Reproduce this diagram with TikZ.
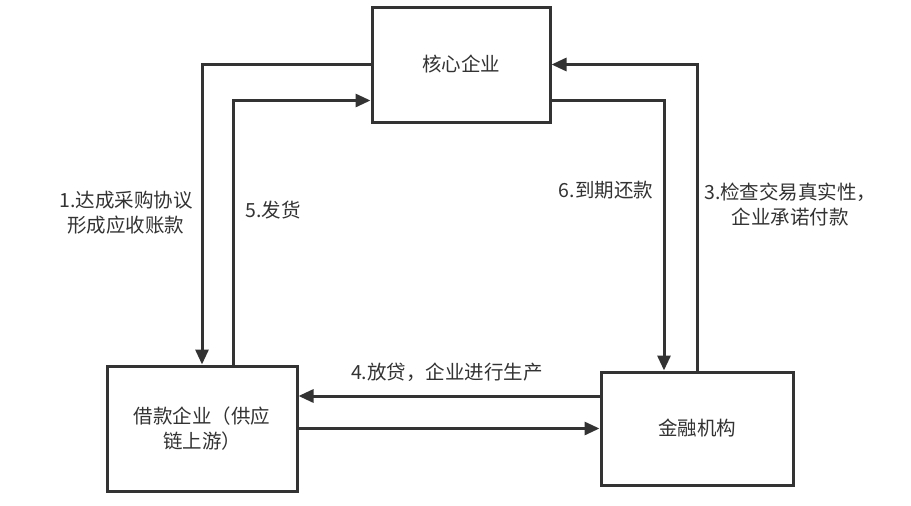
\documentclass[tikz,border=0pt]{standalone}
\usepackage{fontspec}
\setmainfont{Noto Sans CJK SC}
\usetikzlibrary{arrows.meta}
\definecolor{ink}{HTML}{333333}
\begin{document}
\begin{tikzpicture}[x=1pt,y=-1pt,
  box/.style={draw=ink,line width=3pt,fill=white,inner sep=0pt,align=center,text=ink,font=\fontsize{19.5}{25}\selectfont},
  conn/.style={draw=ink,line width=3pt,-{Triangle[length=15pt,width=13pt]}},
  lbl/.style={text=ink,font=\fontsize{19.5}{25}\selectfont,inner sep=0pt,align=center}]
\useasboundingbox (0,0) rectangle (911,506);
\node[box,minimum width=178pt,minimum height=115pt] (core) at (461,64.5) {核心企业};
\node[box,minimum width=190pt,minimum height=125pt] (borrow) at (202,428.5) {借款企业（供应\\链上游）};
\node[box,minimum width=192pt,minimum height=113pt] (fin) at (697,428.5) {金融机构};
% 1
\draw[conn] (core.west) -| (borrow.north);
% 5
\draw[conn] ([xshift=31pt]borrow.north) |- ([yshift=-36pt]core.west);
% 6
\draw[conn] ([yshift=-36pt]core.east) -| ([xshift=-33pt]fin.north);
% 3
\draw[conn] (fin.north) |- (core.east);
% 4
\draw[conn] ([yshift=32.5pt]fin.west) -- ([yshift=32.5pt]borrow.east);
% 2
\draw[conn] (borrow.east) -- (fin.west);
% labels
\node[lbl] (l1) at (126,213) {1.达成采购协议\\形成应收账款};
\node[lbl] (l5) at (273,210) {5.发货};
\node[lbl] (l6) at (606,190) {6.到期还款};
\node[lbl,anchor=west] (l3) at (704,205) {3.检查交易真实性，\\企业承诺付款};
\node[lbl] (l4) at (447,372) {4.放贷，企业进行生产};
\end{tikzpicture}
\end{document}
